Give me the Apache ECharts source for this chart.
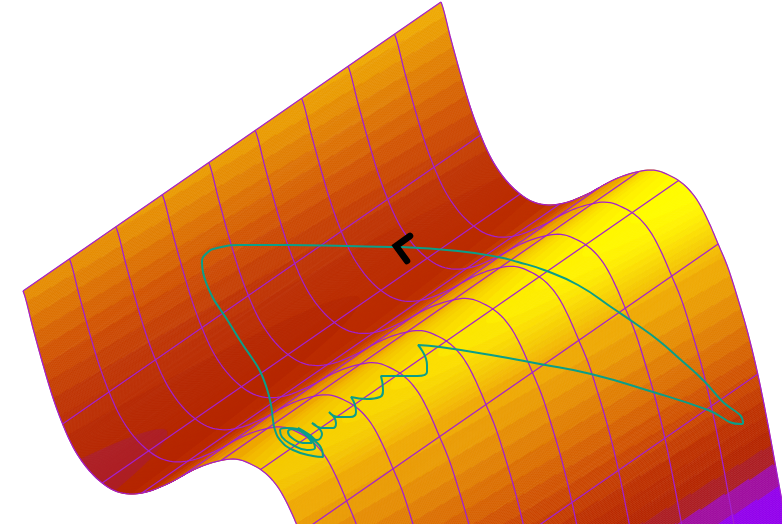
<!DOCTYPE html>
<html>
<head>
<meta charset="utf-8">
<style>
  html, body { margin: 0; background: #fff; }
  #chart { width: 782px; height: 524px; }
</style>
<script src="https://cdn.jsdelivr.net/npm/echarts@6/dist/echarts.min.js"></script>
</head>
<body>
<div id="chart"></div>
<script>
// surface height, every quarter step across the valley
const crossT = [0, .25, .5, .75, 1, 1.25, 1.5, 1.75, 2, 2.25, 2.5, 2.75, 3, 3.25, 3.5, 3.75, 4, 4.25, 4.5,
  4.75, 5, 5.25, 5.5, 5.75, 6, 6.25, 6.5, 6.75, 7, 7.25, 7.5, 7.75, 8, 8.25, 8.5, 8.75, 9];
const heights = [0, -2.8, -5.5, -7.9, -9.7, -11, -11.7, -12, -12, -11.75, -11.2, -10.4, -9.4, -8.25, -6.95,
  -5.6, -4.15, -2.7, -1.35, -0.1, 1.05, 2.1, 2.9, 3.4, 3.75, 3.8, 3.4, 2.4, 1, -0.5, -2.7, -5.2, -8.4, -12.4,
  -16.9, -21.4, -26.2];
const wireT = [0, 1, 2, 3, 4, 5, 6, 7, 8];
const wireS = [0, 1, 2, 3, 4, 5, 6, 7, 8, 9];

// teal trajectory and the black start marker, cusps are listed twice to keep them sharp
const pathX = [401, 391, 347, 287, 240, 217, 207, 202, 203, 207, 213, 220, 228, 243, 252, 260, 267, 271, 273, 275, 280, 293, 313, 323,
  322, 310, 298, 287, 280, 282, 293, 307, 315, 313, 303, 293, 288, 292, 303, 312, 308, 300, 298, 310, 317, 322,
  312, 312, 323, 333, 336, 329, 329, 338, 350, 356, 355, 351, 351, 367, 380, 383, 381, 381, 398, 417, 427, 427,
  418, 418, 440, 491, 540, 591, 653, 708, 741, 743, 743, 721, 704, 681, 658, 636, 614, 578, 544, 518, 498, 458, 401];
const pathY = [247, 247, 246, 245, 245, 248, 253, 262, 272, 285, 298, 309, 321, 345, 358, 371, 389, 405, 420, 430, 440, 450, 456, 457,
  450, 437, 429, 428, 430, 437, 445, 450, 448, 442, 433, 429, 432, 438, 443, 443, 437, 430, 428, 435, 440, 434,
  423, 423, 428, 428, 423, 412, 412, 417, 417, 412, 405, 397, 397, 399, 397, 390, 376, 376, 376, 376, 372, 365,
  345, 345, 347, 355, 364, 374, 392, 410, 424, 423, 423, 400, 381, 360, 340, 324, 309, 285, 270, 262, 257, 251, 247];
const markerX = [410, 396, 407];
const markerY = [236, 246, 261];

// colormap, low to high
const stopHeights = [-18, -14.15, -12.4, -11, -9, -6, -3, 0, 2.6, 4, 5.5, 6.5];
const stopColors = ['#9300ec', '#a00ea0', '#ac1e24', '#b62600', '#bc2e00', '#cc4800', '#da6a00',
  '#e68e00', '#f0ac00', '#f6cc00', '#fff000', '#ffff00'];
const tiltPerS = 0.29;

// band edges: wide at the low end, fine near the top where the picture looks smooth
const bandEdges = [-40, -15.1, -13.2, -11.6];
while (bandEdges[bandEdges.length - 1] < 1.6) bandEdges.push(bandEdges[bandEdges.length - 1] + 1.2);
while (bandEdges[bandEdges.length - 1] < 9) bandEdges.push(bandEdges[bandEdges.length - 1] + 0.3);

function heightAt(t) {
  const u = Math.min(t / 0.25, heights.length - 1.001);
  const i = Math.floor(u), f = u - i;
  const p0 = heights[Math.max(i - 1, 0)], p1 = heights[i], p2 = heights[i + 1];
  const p3 = heights[Math.min(i + 2, heights.length - 1)];
  return p1 + 0.5 * f * (p2 - p0 + f * (2 * p0 - 5 * p1 + 4 * p2 - p3 + f * (3 * (p1 - p2) + p3 - p0)));
}

// fixed camera: orthographic, so height only moves a point vertically
function project(t, s) {
  return [23 + 39.6 * t + 46.44 * s, 291 + 36 * t - 32.11 * s - 10 * heightAt(t)];
}

function bandColor(k) {
  const q = (bandEdges[k] + bandEdges[k + 1]) / 2;
  if (q <= stopHeights[0]) return stopColors[0];
  for (let i = 1; i < stopHeights.length; i++) {
    if (q <= stopHeights[i]) {
      const f = (q - stopHeights[i - 1]) / (stopHeights[i] - stopHeights[i - 1]);
      return echarts.color.lerp(f, [stopColors[i - 1], stopColors[i]]);
    }
  }
  return stopColors[stopColors.length - 1];
}

const stripCount = 1100;
const tMax = crossT[crossT.length - 1], sMax = wireS[wireS.length - 1];
const strips = [];
for (let i = 0; i < stripCount; i++) strips.push([i]);

// one thin strip along s, cut where the height crosses a colour band
function renderStrip(params, api) {
  const i = api.value(0);
  const t0 = i * tMax / stripCount, t1 = (i + 1) * tMax / stripCount;
  const z0 = heightAt((t0 + t1) / 2);
  const children = [];
  let s = 0;
  let k = 0;
  while (bandEdges[k + 1] <= z0) k++;
  while (s < sMax) {
    const next = Math.min((bandEdges[k + 1] - z0) / tiltPerS, sMax);
    const fill = bandColor(k);
    children.push({
      type: 'polygon',
      shape: { points: [[t0, s], [t1, s], [t1, next], [t0, next]].map(p => api.coord(project(p[0], p[1]))) },
      style: { fill: fill, stroke: fill, lineWidth: 0.6 }
    });
    s = next;
    k++;
  }
  return { type: 'group', children: children };
}

const wireStyle = { color: '#a41fd0', width: 1.25 };
const series = [{
  type: 'custom',
  data: strips,
  renderItem: renderStrip,
  progressive: 0,
  animation: false,
  silent: true,
  z: 1
}];

const fineT = [];
for (let i = 0; i <= 360; i++) fineT.push(i * tMax / 360);
wireS.forEach(s => {
  series.push({
    type: 'line', data: fineT.map(t => project(t, s)), showSymbol: false,
    lineStyle: wireStyle, silent: true, animation: false, z: 2
  });
});
wireT.forEach(t => {
  series.push({
    type: 'line', data: [project(t, 0), project(t, sMax)], showSymbol: false,
    lineStyle: wireStyle, silent: true, animation: false, z: 2
  });
});
series.push({
  type: 'line', data: pathX.map((x, i) => [x, pathY[i]]), showSymbol: false, smooth: 0.5,
  lineStyle: { color: '#0a9e88', width: 2 }, silent: true, animation: false, z: 3
});
series.push({
  type: 'line', data: markerX.map((x, i) => [x, markerY[i]]), showSymbol: false,
  lineStyle: { color: '#000', width: 6.5, cap: 'round', join: 'miter' }, silent: true, animation: false, z: 4
});

const chart = echarts.init(document.getElementById('chart'), null, { renderer: 'canvas' });
chart.setOption({
  animation: false,
  backgroundColor: '#fff',
  grid: { left: 0, right: 0, top: 0, bottom: 0 },
  xAxis: { type: 'value', min: 0, max: 782, show: false },
  yAxis: { type: 'value', min: 0, max: 524, inverse: true, show: false },
  series: series
});
</script>
</body>
</html>
